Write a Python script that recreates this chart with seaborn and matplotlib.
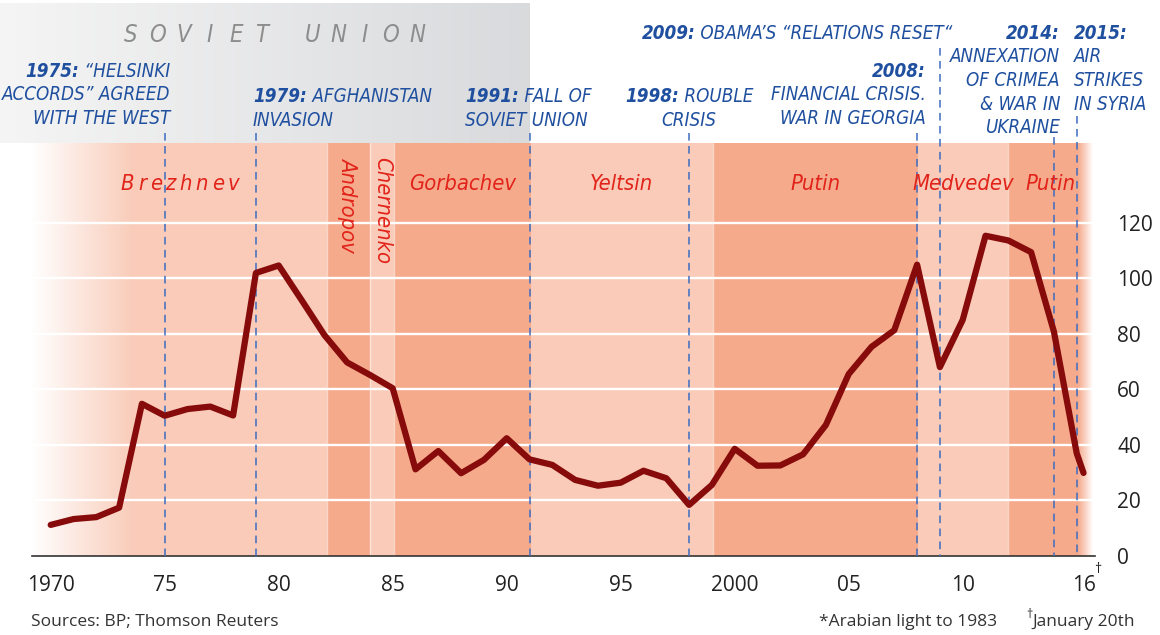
import os
import numpy as np
import matplotlib
matplotlib.use("Agg")
import matplotlib.pyplot as plt
import matplotlib.transforms as mtransforms
from matplotlib import font_manager as fm
import seaborn as sns

# Oil price, $ per barrel (annual, last point = January 20th 2016)
years = [1970, 1971, 1972, 1973, 1974, 1975, 1976, 1977, 1978, 1979,
         1980, 1981, 1982, 1983, 1984, 1985, 1986, 1987, 1988, 1989,
         1990, 1991, 1992, 1993, 1994, 1995, 1996, 1997, 1998, 1999,
         2000, 2001, 2002, 2003, 2004, 2005, 2006, 2007, 2008, 2009,
         2010, 2011, 2012, 2013, 2014, 2015, 2015.3]
prices = [11.2, 13.3, 14.0, 17.4, 54.8, 50.5, 52.9, 53.8, 50.6, 101.9,
          104.6, 92.2, 79.6, 69.7, 65.2, 60.4, 31.2, 37.8, 29.8, 34.6,
          42.4, 34.8, 32.8, 27.4, 25.3, 26.4, 30.7, 28.0, 18.4, 25.6,
          38.6, 32.5, 32.6, 36.6, 47.2, 65.5, 75.3, 81.3, 104.9, 68.0,
          85.0, 115.3, 113.6, 109.4, 80.8, 37.0, 29.9]

tick_pos = [1970, 1975, 1980, 1985, 1990, 1995, 2000, 2005, 2010, 2015.3]
tick_labels = ["1970", "75", "80", "85", "90", "95", "2000", "05", "10", "16"]
y_ticks = [0, 20, 40, 60, 80, 100, 120]

leaders = ["Brezhnev", "Andropov", "Chernenko", "Gorbachev", "Yeltsin",
           "Putin", "Medvedev", "Putin"]
term_start = [1969.0, 1982.1, 1984.0, 1985.05, 1991.05, 1999.05, 2008.05, 2012.0]
term_end = [1982.1, 1984.0, 1985.05, 1991.05, 1999.05, 2008.05, 2012.0, 2015.7]
term_dark = [False, True, False, True, False, True, False, True]
term_vertical = [False, True, True, False, False, False, False, False]

event_years = [1975, 1979, 1991, 1998, 2008, 2009, 2014, 2015]
event_text = [
    [("1975:", " “HELSINKI"), ("", "ACCORDS” AGREED"), ("", "WITH THE WEST")],
    [("1979:", " AFGHANISTAN"), ("", "INVASION")],
    [("1991:", " FALL OF"), ("", "SOVIET UNION")],
    [("1998:", " ROUBLE"), ("", "CRISIS")],
    [("2008:", ""), ("", "FINANCIAL CRISIS."), ("", "WAR IN GEORGIA")],
    [("2009:", " OBAMA’S “RELATIONS RESET“")],
    [("2014:", ""), ("", "ANNEXATION"), ("", "OF CRIMEA"), ("", "& WAR IN"), ("", "UKRAINE")],
    [("2015:", ""), ("", "AIR"), ("", "STRIKES"), ("", "IN SYRIA")],
]
# layout of the event notes (pixels): anchor x, alignment, first baseline, line top
event_x = [170, 253, 465, 689, 926, 797, 1060, 1074]
event_ha = ["right", "left", "left", "center", "right", "center", "right", "left"]
event_base = [77, 102, 102, 102, 77, 39, 39, 39]
event_top = [133, 133, 133, 133, 133, 48, 137, 116]

sns.set_style("white")
plt.rcParams["font.family"] = ["Open Sans", "DejaVu Sans"]

# pick a narrow face for the notes
names = {f.name for f in fm.fontManager.ttflist}
dv_cond = any(f.name == "DejaVu Sans" and "Condensed" in os.path.basename(f.fname)
              for f in fm.fontManager.ttflist)
if "Liberation Sans Narrow" in names:
    nfont = dict(family=["Liberation Sans Narrow", "DejaVu Sans"])
    nsize = 1.0
elif dv_cond:
    nfont = dict(family=["DejaVu Sans"], stretch="condensed")
    nsize = 0.9
else:
    nfont = dict(family=["Roboto", "DejaVu Sans"])
    nsize = 0.88

W, H = 1160, 635
fig = plt.figure(figsize=(11.6, 6.35), dpi=100)
bg = fig.add_axes([0, 0, 1, 1], zorder=0)

AX_L, AX_R, AX_T, AX_B = 32, 1095, 143, 556
ax = fig.add_axes([AX_L / W, 1 - AX_B / H, (AX_R - AX_L) / W, (AX_B - AX_T) / H], zorder=1)
ax.patch.set_alpha(0)

X0, PXYR, PXU = 50.7, 22.8, 2.7775


def yr(px):
    return 1970 + (px - X0) / PXYR


xlim = (yr(AX_L), yr(AX_R))
ytop = (AX_B - AX_T) / PXU

# grey "Soviet Union" box
t = np.linspace(0, 1, 256)
c0, c1 = np.array([0.96, 0.96, 0.96]), np.array([0.85, 0.855, 0.865])
grey = (c0[None, :] + t[:, None] * (c1 - c0)[None, :])[None, :, :]
bg.imshow(grey, extent=(0, 530, AX_T, 3), aspect="auto", zorder=0, interpolation="bilinear")
bg.set_xlim(0, W)
bg.set_ylim(H, 0)
bg.axis("off")

xpos = 131
for ch in "SOVIET UNION":
    if ch == " ":
        xpos += 24
        continue
    bg.text(xpos, 42, ch, ha="center", va="baseline", fontsize=19 * nsize, style="italic",
            color="#8d8d8d", **nfont)
    xpos += 26.2

# regime bands
light, dark = "#f9cbb8", "#f5aa8c"
for s, e, d in zip(term_start, term_end, term_dark):
    ax.axvspan(s, e, color=dark if d else light, lw=0, zorder=0)
for b in [1982.1, 1984.0, 1985.05, 1999.05, 2012.0]:
    ax.axvline(b, color="white", alpha=0.5, lw=1, zorder=0.5)
for yv in y_ticks[1:]:
    ax.axhline(yv, color="white", lw=1.7, zorder=1)

# fades at both ends
fade = np.ones((1, 256, 4))
fade[..., 3] = np.linspace(1, 0, 256)
ax.imshow(fade, extent=(xlim[0], yr(135), 0, ytop), aspect="auto", zorder=2,
          interpolation="bilinear")
fade_r = np.ones((1, 256, 4))
fade_r[..., 3] = np.linspace(0, 1, 256)
ax.imshow(fade_r, extent=(yr(1078), yr(1093), 0, ytop), aspect="auto", zorder=2,
          interpolation="bilinear")

trans = mtransforms.blended_transform_factory(ax.transData, bg.transData)

# event lines
for ey, top in zip(event_years, event_top):
    ax.plot([ey, ey], [top, AX_B], transform=trans, color="#3d6cc0", lw=1.1,
            ls=(0, (5, 3.5)), zorder=3, clip_on=False)

# price line
sns.lineplot(x=years, y=prices, ax=ax, color="#870b0b", lw=4.5, zorder=5,
             estimator=None, sort=False)

ax.set_xlim(*xlim)
ax.set_ylim(0, ytop)

renderer = fig.canvas.get_renderer()

# leader names
red = "#e2231a"
nkw = dict(fontsize=17.5 * nsize, style="italic", color=red, zorder=4, **nfont)
for name, s, e, vert in zip(leaders, term_start, term_end, term_vertical):
    mid = (max(s, xlim[0]) + e) / 2
    if name == "Brezhnev":
        ws = []
        for ch in name:
            tt = bg.text(0, 0, ch, **nkw)
            ws.append(tt.get_window_extent(renderer).width)
            tt.remove()
        track = 3.6
        total = sum(ws) + track * (len(ws) - 1)
        x = 180 - total / 2
        for ch, w in zip(name, ws):
            ax.text(yr(x), 190, ch, transform=trans, ha="left", va="baseline", **nkw)
            x += w + track
    elif vert:
        ax.text(mid, 157, name, transform=trans, ha="center", va="top", rotation=-90, **nkw)
    else:
        ax.text(mid, 190, name, transform=trans, ha="center", va="baseline", **nkw)

# event notes
blue = "#1f4f9f"
kw = dict(fontsize=15 * nsize, style="italic", color=blue, va="baseline", **nfont)
for lines, x, ha, base in zip(event_text, event_x, event_ha, event_base):
    yb = base
    for bold, rest in lines:
        parts = []
        widths = []
        for txt, wt in [(bold, "bold"), (rest, "normal")]:
            if txt:
                tt = bg.text(0, yb, txt, weight=wt, ha="left", **kw)
                parts.append(tt)
                widths.append(tt.get_window_extent(renderer).width)
        total = sum(widths)
        if ha == "right":
            start = x - total
        elif ha == "center":
            start = x - total / 2
        else:
            start = x
        for tt, w in zip(parts, widths):
            tt.set_x(start)
            start += w
        yb += 23.5

# axes styling
sns.despine(ax=ax, left=True, right=True, top=True, bottom=False)
ax.spines["bottom"].set_color("#333333")
ax.spines["bottom"].set_linewidth(1.2)
ax.set_xticks(tick_pos)
ax.set_xticklabels(tick_labels)
ax.set_xticks([y for y in range(1971, 2016) if y % 5], minor=True)
ax.tick_params(axis="x", which="major", direction="in", length=7.5, width=1,
               color="#333333", pad=14, labelsize=15, labelcolor="#222222")
ax.tick_params(axis="x", which="minor", direction="in", length=4, width=1, color="#333333")
ax.yaxis.tick_right()
ax.set_yticks(y_ticks)
ax.tick_params(axis="y", length=0, pad=16, labelsize=15, labelcolor="#222222")
ax.set_xlabel("")
ax.set_ylabel("")
ax.grid(False)

bg.text(1094, 562, "†", fontsize=10, ha="left", va="top", color="#222222")

fkw = dict(fontsize=12.5, va="baseline", color="#333333")
bg.text(31, 626, "Sources: BP; Thomson Reuters", **fkw)
bg.text(997, 626, "*Arabian light to 1983", ha="right", **fkw)
jan = bg.text(1135, 626, "January 20th", ha="right", **fkw)
jx = jan.get_window_extent(renderer).x0
bg.text(jx, 618, "†", fontsize=9, va="baseline", ha="right", color="#333333")

fig.savefig("out.png", dpi=100)
